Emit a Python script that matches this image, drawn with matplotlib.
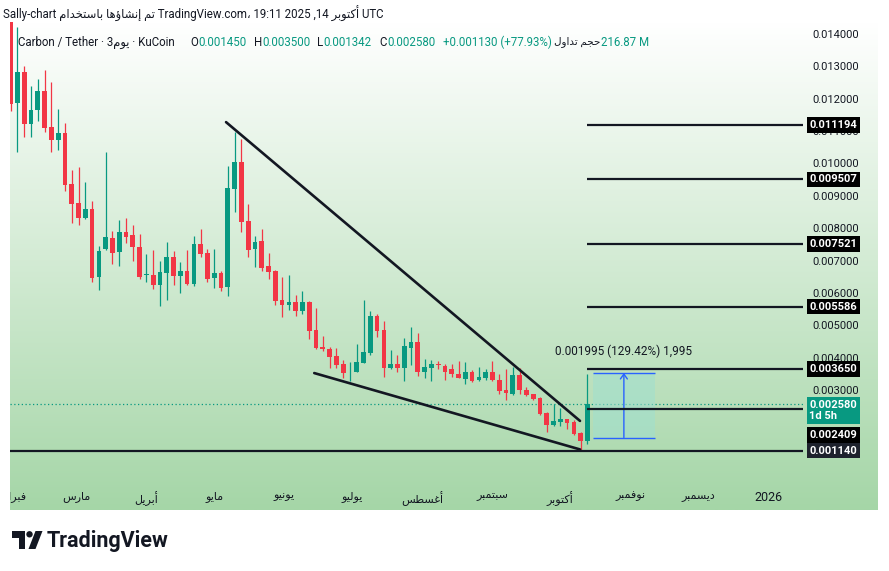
import numpy as np
import pandas as pd
import matplotlib
matplotlib.use("Agg")
import matplotlib.pyplot as plt
import matplotlib.dates as mdates
from matplotlib.patches import Rectangle, Polygon, Circle

# CARBON/USDT, 3-day candles on KuCoin
dates = pd.date_range("2025-01-31", periods=86, freq="3D")
opens = [0.01460, 0.01186, 0.01282, 0.01122, 0.01165, 0.01223, 0.01112, 0.01072, 0.01094, 0.00937,
         0.00878, 0.00832, 0.00860, 0.00651, 0.00737, 0.00771, 0.00728, 0.00789, 0.00780, 0.00743,
         0.00655, 0.00657, 0.00626, 0.00663, 0.00712, 0.00654, 0.00669, 0.00629, 0.00752, 0.00725,
         0.00648, 0.00663, 0.00620, 0.00922, 0.01005, 0.00823, 0.00737, 0.00762, 0.00685, 0.00669,
         0.00580, 0.00562, 0.00574, 0.00546, 0.00574, 0.00485, 0.00435, 0.00429, 0.00405, 0.00380,
         0.00355, 0.00355, 0.00383, 0.00414, 0.00528, 0.00485, 0.00368, 0.00380, 0.00368, 0.00432,
         0.00448, 0.00355, 0.00368, 0.00381, 0.00374, 0.00365, 0.00349, 0.00334, 0.00358, 0.00331,
         0.00337, 0.00355, 0.00331, 0.00300, 0.00288, 0.00346, 0.00300, 0.00288, 0.00275, 0.00229,
         0.00192, 0.00202, 0.00211, 0.00202, 0.00168, 0.00145]
highs = [0.01500, 0.01420, 0.01300, 0.01238, 0.01260, 0.01288, 0.01251, 0.01168, 0.01125, 0.00980,
         0.00989, 0.00943, 0.00885, 0.00746, 0.01035, 0.00792, 0.00826, 0.00832, 0.00811, 0.00783,
         0.00722, 0.00734, 0.00700, 0.00759, 0.00731, 0.00697, 0.00734, 0.00777, 0.00798, 0.00737,
         0.00737, 0.00669, 0.00992, 0.01097, 0.01075, 0.00875, 0.00777, 0.00798, 0.00725, 0.00670,
         0.00651, 0.00657, 0.00595, 0.00605, 0.00577, 0.00555, 0.00469, 0.00435, 0.00432, 0.00395,
         0.00386, 0.00442, 0.00580, 0.00546, 0.00537, 0.00515, 0.00423, 0.00408, 0.00460, 0.00494,
         0.00478, 0.00398, 0.00392, 0.00389, 0.00380, 0.00380, 0.00389, 0.00386, 0.00362, 0.00371,
         0.00365, 0.00389, 0.00349, 0.00365, 0.00371, 0.00368, 0.00309, 0.00290, 0.00278, 0.00232,
         0.00257, 0.00245, 0.00211, 0.00208, 0.00170, 0.00350]
lows = [0.01162, 0.01035, 0.01082, 0.01082, 0.01131, 0.01097, 0.01035, 0.01042, 0.00915, 0.00817,
        0.00810, 0.00830, 0.00635, 0.00611, 0.00734, 0.00690, 0.00685, 0.00755, 0.00700, 0.00645,
        0.00635, 0.00614, 0.00559, 0.00580, 0.00626, 0.00599, 0.00626, 0.00623, 0.00710, 0.00635,
        0.00617, 0.00605, 0.00592, 0.00851, 0.00789, 0.00712, 0.00682, 0.00669, 0.00645, 0.00562,
        0.00525, 0.00549, 0.00528, 0.00537, 0.00457, 0.00429, 0.00420, 0.00368, 0.00368, 0.00337,
        0.00328, 0.00355, 0.00383, 0.00408, 0.00466, 0.00340, 0.00365, 0.00358, 0.00328, 0.00377,
        0.00343, 0.00337, 0.00328, 0.00365, 0.00331, 0.00340, 0.00337, 0.00318, 0.00325, 0.00330,
        0.00331, 0.00330, 0.00288, 0.00269, 0.00287, 0.00288, 0.00283, 0.00269, 0.00225, 0.00171,
        0.00190, 0.00189, 0.00180, 0.00162, 0.00114, 0.001342]
closes = [0.01183, 0.01282, 0.01122, 0.01165, 0.01223, 0.01109, 0.01072, 0.01094, 0.00934, 0.00875,
          0.00832, 0.00860, 0.00648, 0.00731, 0.00774, 0.00725, 0.00789, 0.00774, 0.00743, 0.00651,
          0.00658, 0.00626, 0.00666, 0.00712, 0.00654, 0.00669, 0.00629, 0.00752, 0.00722, 0.00645,
          0.00663, 0.00617, 0.00925, 0.01005, 0.00820, 0.00734, 0.00759, 0.00679, 0.00666, 0.00577,
          0.00562, 0.00574, 0.00546, 0.00574, 0.00482, 0.00432, 0.00426, 0.00402, 0.00377, 0.00352,
          0.00357, 0.00386, 0.00417, 0.00528, 0.00482, 0.00368, 0.00380, 0.00368, 0.00438, 0.00448,
          0.00355, 0.00371, 0.00380, 0.00378, 0.00358, 0.00349, 0.00337, 0.00358, 0.00328, 0.00340,
          0.00355, 0.00331, 0.00297, 0.00291, 0.00346, 0.00300, 0.00285, 0.00272, 0.00226, 0.00192,
          0.00205, 0.00211, 0.00199, 0.00165, 0.00145, 0.00258]

levels = [0.011194, 0.009507, 0.007521, 0.005586, 0.003650, 0.002409]
support = 0.001140
last_price = 0.002580

upper_line_dates = ["2025-05-06 05:00", "2025-10-09 17:00"]
upper_line_prices = [0.011277, 0.002055]
lower_line_dates = ["2025-06-14 05:00", "2025-10-09 17:00"]
lower_line_prices = [0.003532, 0.001175]

measure_dates = ["2025-10-15 10:00", "2025-11-11 19:00"]
measure_prices = [0.0015415, 0.003537]
measure_text = "0.001995 (129.42%) 1,995"

price_ticks = [0.003, 0.004, 0.005, 0.006, 0.007, 0.008, 0.009, 0.010, 0.011, 0.012, 0.013, 0.014]
month_ticks = ["2025-02-01", "2025-03-01", "2025-04-01", "2025-05-01", "2025-06-01", "2025-07-01",
               "2025-08-01", "2025-09-01", "2025-10-01", "2025-11-01", "2025-12-01", "2026-01-01"]
month_labels = ["فبراير", "مارس", "أبريل", "مايو", "يونيو", "يوليو",
                "أغسطس", "سبتمبر", "أكتوبر", "نوفمبر", "ديسمبر", "2026"]

UP = "#089981"
DOWN = "#f23645"
INK = "#131722"

# matplotlib has no Arabic shaping: map letters to presentation forms, then reverse
FORMS = {
    'ء': ('\ufe80', None, None, None), 'آ': ('\ufe81', '\ufe82', None, None),
    'أ': ('\ufe83', '\ufe84', None, None), 'ؤ': ('\ufe85', '\ufe86', None, None),
    'إ': ('\ufe87', '\ufe88', None, None), 'ئ': ('\ufe89', '\ufe8a', '\ufe8b', '\ufe8c'),
    'ا': ('\ufe8d', '\ufe8e', None, None), 'ب': ('\ufe8f', '\ufe90', '\ufe91', '\ufe92'),
    'ة': ('\ufe93', '\ufe94', None, None), 'ت': ('\ufe95', '\ufe96', '\ufe97', '\ufe98'),
    'ث': ('\ufe99', '\ufe9a', '\ufe9b', '\ufe9c'), 'ج': ('\ufe9d', '\ufe9e', '\ufe9f', '\ufea0'),
    'ح': ('\ufea1', '\ufea2', '\ufea3', '\ufea4'), 'خ': ('\ufea5', '\ufea6', '\ufea7', '\ufea8'),
    'د': ('\ufea9', '\ufeaa', None, None), 'ذ': ('\ufeab', '\ufeac', None, None),
    'ر': ('\ufead', '\ufeae', None, None), 'ز': ('\ufeaf', '\ufeb0', None, None),
    'س': ('\ufeb1', '\ufeb2', '\ufeb3', '\ufeb4'), 'ش': ('\ufeb5', '\ufeb6', '\ufeb7', '\ufeb8'),
    'ص': ('\ufeb9', '\ufeba', '\ufebb', '\ufebc'), 'ض': ('\ufebd', '\ufebe', '\ufebf', '\ufec0'),
    'ط': ('\ufec1', '\ufec2', '\ufec3', '\ufec4'), 'ظ': ('\ufec5', '\ufec6', '\ufec7', '\ufec8'),
    'ع': ('\ufec9', '\ufeca', '\ufecb', '\ufecc'), 'غ': ('\ufecd', '\ufece', '\ufecf', '\ufed0'),
    'ف': ('\ufed1', '\ufed2', '\ufed3', '\ufed4'), 'ق': ('\ufed5', '\ufed6', '\ufed7', '\ufed8'),
    'ك': ('\ufed9', '\ufeda', '\ufedb', '\ufedc'), 'ل': ('\ufedd', '\ufede', '\ufedf', '\ufee0'),
    'م': ('\ufee1', '\ufee2', '\ufee3', '\ufee4'), 'ن': ('\ufee5', '\ufee6', '\ufee7', '\ufee8'),
    'ه': ('\ufee9', '\ufeea', '\ufeeb', '\ufeec'), 'و': ('\ufeed', '\ufeee', None, None),
    'ى': ('\ufeef', '\ufef0', None, None), 'ي': ('\ufef1', '\ufef2', '\ufef3', '\ufef4'),
}


def ar(text):
    if not any(ch in FORMS for ch in text):
        return text
    out = []
    for i, c in enumerate(text):
        if c not in FORMS:
            out.append(c)
            continue
        prev = text[i - 1] if i > 0 else ""
        nxt = text[i + 1] if i + 1 < len(text) else ""
        join_prev = prev in FORMS and FORMS[prev][2] is not None
        join_next = nxt in FORMS and FORMS[nxt][1] is not None and FORMS[c][2] is not None
        iso, fin, ini, med = FORMS[c]
        if join_prev and join_next:
            f = med
        elif join_prev:
            f = fin
        elif join_next:
            f = ini
        else:
            f = iso
        out.append(f or iso)
    return "".join(reversed(out))


plt.rcParams["font.family"] = ["Roboto", "DejaVu Sans"]

W, H = 889, 571
fig = plt.figure(figsize=(W / 100, H / 100), dpi=100)
fig.patch.set_facecolor("white")


def px(l, t, r, b):
    return [l / W, 1 - b / H, (r - l) / W, (b - t) / H]


# gradient panel behind chart, price scale and time scale
bg = fig.add_axes(px(10, 22, 878, 510))
top_c = np.array([1.0, 1.0, 1.0])
bot_c = np.array([0xa5, 0xd6, 0xa7]) / 255
t = np.linspace(0, 1, 256)[:, None]
grad = top_c * (1 - t) + bot_c * t
bg.imshow(grad[:, None, :], aspect="auto", extent=(0, 1, 0, 1), interpolation="bilinear")
bg.set_axis_off()

ax = fig.add_axes(px(10, 22, 803, 483))
ax.set_facecolor("none")
for s in ax.spines.values():
    s.set_visible(False)

x = mdates.date2num(dates)
x0 = x[0] - 0.31
x1 = x[0] + 350.3
ax.set_xlim(x0, x1)
ax.set_ylim(0.000139, 0.014367)

o = np.array(opens)
c = np.array(closes)
colors = [UP if cc >= oo else DOWN for oo, cc in zip(o, c)]
ax.vlines(x, lows, highs, colors=colors, lw=0.9, zorder=2)
body = np.maximum(np.abs(c - o), 0.00003)
ax.bar(x, body, bottom=np.minimum(o, c), width=2.1, color=colors, zorder=3)

# levels
ax.hlines(levels, x[-1], x1, color=INK, lw=1.6, zorder=4)
ax.axhline(support, color=INK, lw=1.6, zorder=4)
ax.axhline(last_price, color=UP, lw=0.9, ls=(0, (1, 2)), zorder=1)

# falling wedge
ax.plot(mdates.date2num(pd.to_datetime(upper_line_dates)), upper_line_prices,
        color=INK, lw=1.9, solid_capstyle="round", zorder=4)
ax.plot(mdates.date2num(pd.to_datetime(lower_line_dates)), lower_line_prices,
        color=INK, lw=1.9, solid_capstyle="round", zorder=4)

# price range measurement
mx = mdates.date2num(pd.to_datetime(measure_dates))
ax.add_patch(Rectangle((mx[0], measure_prices[0]), mx[1] - mx[0],
                       measure_prices[1] - measure_prices[0],
                       fc="#9fdfd0", alpha=0.55, lw=0, zorder=2))
ax.hlines(measure_prices, mx[0], mx[1], color="#2962ff", lw=1, zorder=3)
xm = (mx[0] + mx[1]) / 2
ax.annotate("", xy=(xm, measure_prices[1]), xytext=(xm, measure_prices[0]),
            arrowprops=dict(arrowstyle="->,head_length=0.35,head_width=0.25",
                            color="#2962ff", lw=1, shrinkA=0, shrinkB=0), zorder=3)
ax.annotate(measure_text, xy=(xm, measure_prices[1]), xytext=(0, 11),
            textcoords="offset points", ha="center", va="bottom", fontsize=8.5, color=INK)

# price scale
ax.yaxis.tick_right()
ax.set_yticks(price_ticks)
ax.set_yticklabels([f"{v:.6f}" for v in price_ticks])
ax.tick_params(axis="y", length=0, pad=6.5, labelsize=8, labelcolor=INK)

ax.set_xticks(mdates.date2num(pd.to_datetime(month_ticks)))
ax.set_xticklabels([ar(m) for m in month_labels])
ax.tick_params(axis="x", length=0, pad=6, labelsize=8, labelcolor=INK)
for lbl in ax.get_xticklabels():
    lbl.set_clip_box(bg.bbox)
    lbl.set_clip_on(True)
ax.get_xticklabels()[-1].set_fontsize(9)

lab_tf = ax.get_yaxis_transform()


def price_label(txt, y, fc, dy=0, va="center"):
    ax.annotate(txt, xy=(1, y), xycoords=lab_tf, xytext=(4.6, dy), textcoords="offset points",
                ha="left", va=va, fontsize=8, fontweight="bold", color="white",
                annotation_clip=False, zorder=6,
                bbox=dict(boxstyle="square,pad=0.25", fc=fc, ec="none"))


for lv in levels[:-1]:
    price_label(f"{lv:.6f}", lv, "black")
price_label(f"{last_price:.6f}\n1d 5h", last_price, UP, dy=3, va="top")
price_label(f"{levels[-1]:.6f}", levels[-1], "black", dy=-18.4)
price_label(f"{support:.6f}", support, "#1e222d")

# header, legend and logo in pixel space
ov = fig.add_axes([0, 0, 1, 1], zorder=10)
ov.set_xlim(0, W)
ov.set_ylim(H, 0)
ov.set_axis_off()
ov.patch.set_alpha(0)

ov.text(3, 14, f"Sally-chart {ar('تم إنشاؤها باستخدام')} TradingView.com، 19:11 2025 ,14 {ar('أكتوبر')} UTC",
        va="center", ha="left", fontsize=8.3, color=INK)

hy = 42
fs = 8.3
ov.text(18, hy, f"Carbon / Tether · 3{ar('يوم')} · KuCoin", va="center", fontsize=fs, color=INK)
legend = [(190, "O", INK), (198, "0.001450", UP), (254, "H", INK), (262, "0.003500", UP),
          (317, "L", INK), (323, "0.001342", UP), (379, "C", INK), (387, "0.002580", UP),
          (443, "+0.001130 (+77.93%)", UP), (601, "216.87 M", UP)]
for lx, txt, col in legend:
    ov.text(lx, hy, txt, va="center", fontsize=fs, color=col)
ov.text(600, hy, ar("حجم تداول"), va="center", ha="right", fontsize=7.5, color=INK)

ov.add_patch(Polygon([(12, 531), (25, 531), (25, 549), (18.5, 549), (18.5, 537.5), (12, 537.5)],
                     closed=True, fc=INK, ec="none"))
ov.add_patch(Circle((29.5, 534.3), 3.2, fc=INK, ec="none"))
ov.add_patch(Polygon([(35.5, 531), (42.5, 531), (35.5, 549), (28.5, 549)], closed=True, fc=INK, ec="none"))
ov.text(47, 541, "TradingView", va="center", ha="left", fontsize=15.5, fontweight="bold", color=INK)

fig.savefig("out.png", dpi=100)
